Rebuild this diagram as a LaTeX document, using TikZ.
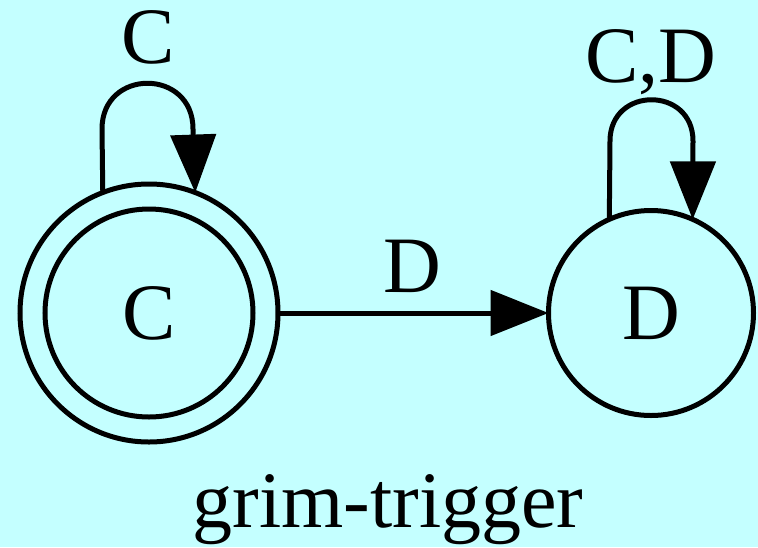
\documentclass[tikz,border=0pt]{standalone}
\usepackage{fontspec}
\setmainfont{Liberation Serif}
\usetikzlibrary{arrows.meta}
\definecolor{bgcyan}{RGB}{196,255,255}
\begin{document}
\begin{tikzpicture}[x=1pt,y=-1pt,
  state/.style={circle,draw,line width=5pt,inner sep=0pt,outer sep=0pt,font=\fontsize{80}{96}\selectfont},
  edge/.style={line width=5pt,-{Triangle[length=58pt,width=45pt]}},
  lbl/.style={anchor=base,inner sep=0pt,font=\fontsize{80}{96}\selectfont}]
\fill[bgcyan] (0,0) rectangle (758,547);
\useasboundingbox (0,0) rectangle (758,547);
\node[state,minimum size=258pt] (C) at (149,313) {C};
\draw[line width=5pt] (C.center) circle[radius=104];
\node[state,minimum size=205pt] (D) at (651,313) {D};
\draw[edge] (C.east) -- (D.west);
\node[lbl] (lD) at (412,292) {D};
\draw[edge] (C.111) -- (102,129) .. controls (102,68) and (193,68) .. (193,129) -- (C.69);
\node[lbl] (lC) at (148,63) {C};
\draw[edge] (D.114) -- (610,141) .. controls (610,86) and (693,86) .. (693,141) -- (D.66);
\node[lbl] (lCD) at (651,82) {C,D};
\node[lbl] (title) at (388,527) {grim-trigger};
\end{tikzpicture}
\end{document}
